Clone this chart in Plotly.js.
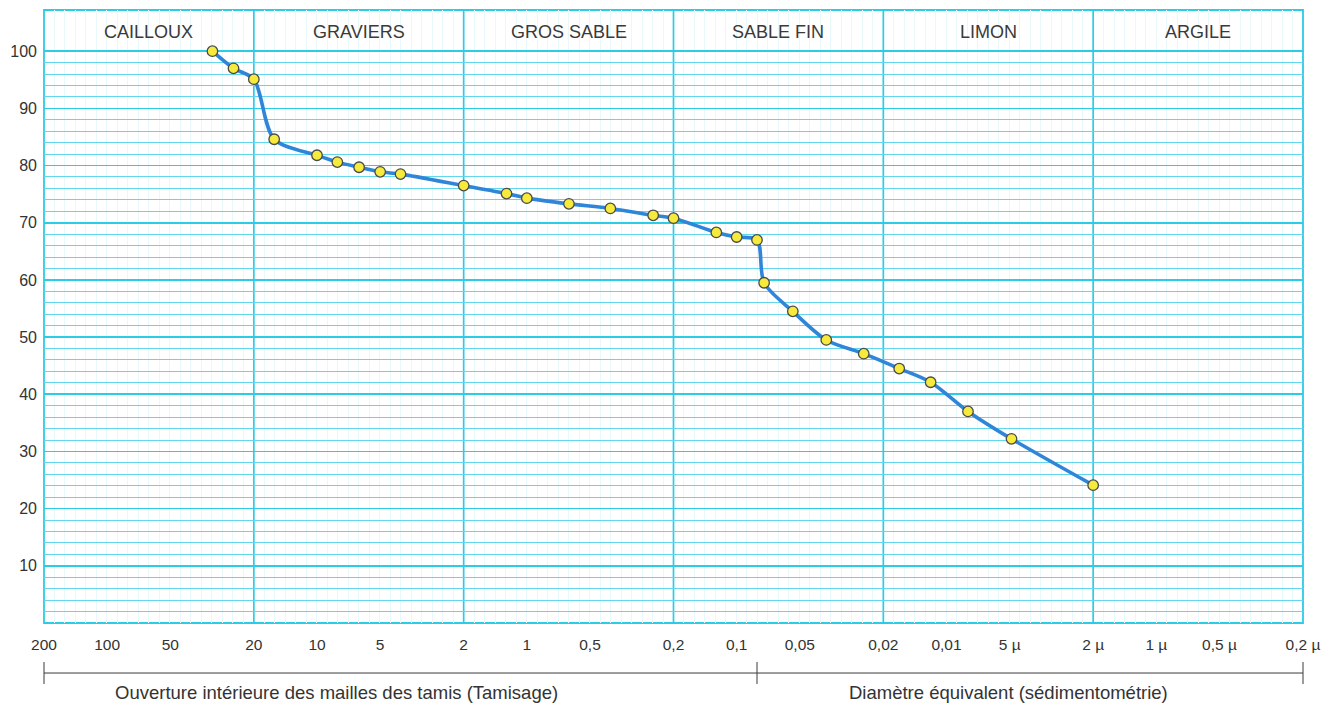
<!DOCTYPE html>
<html>
<head>
<meta charset="utf-8">
<script src="https://cdn.plot.ly/plotly-3.0.1.min.js"></script>
<style>html,body{margin:0;padding:0;background:#fff;}#chart{width:1333px;height:705px;}</style>
</head>
<body>
<div id="chart"></div>
<script>
// Granulometric curve data (diameter in mm, % passing)
const diameters = [31.5, 25, 20, 16, 10, 8, 6.3, 5, 4, 2, 1.25, 1, 0.63, 0.4, 0.25, 0.2, 0.125, 0.1, 0.08,
                   0.074, 0.054, 0.0374, 0.0248, 0.0168, 0.0119, 0.0079, 0.0049, 0.002];
const passing = [100, 97.0, 95.1, 84.6, 81.8, 80.6, 79.7, 78.9, 78.5, 76.5, 75.1, 74.3, 73.3, 72.5, 71.3, 70.8, 68.3, 67.5, 67.0,
                 59.5, 54.5, 49.5, 47.1, 44.5, 42.1, 37.0, 32.2, 24.1];

const tickValues = [200, 100, 50, 20, 10, 5, 2, 1, 0.5, 0.2, 0.1, 0.05, 0.02, 0.01, 0.005, 0.002, 0.001, 0.0005, 0.0002];
const tickLabels = ['200', '100', '50', '20', '10', '5', '2', '1', '0,5', '0,2', '0,1', '0,05', '0,02', '0,01', '5 µ', '2 µ', '1 µ', '0,5 µ', '0,2 µ'];

const classNames = ['CAILLOUX', 'GRAVIERS', 'GROS SABLE', 'SABLE FIN', 'LIMON', 'ARGILE'];
const classBounds = [200, 20, 2, 0.2, 0.02, 0.002, 0.0002];

const yTickValues = [10, 20, 30, 40, 50, 60, 70, 80, 90, 100];
const sieveLimit = 0.08;
const bottomLabels = ['Ouverture intérieure des mailles des tamis (Tamisage)', 'Diamètre équivalent (sédimentométrie)'];

const CYAN = '#2ccbe6';
const FONT = 'Liberation Sans, Arial, Helvetica, sans-serif';

const xMax = Math.log10(classBounds[0]);
const xMin = Math.log10(classBounds[classBounds.length - 1]);
const span = xMax - xMin;
const toPaperX = v => (xMax - Math.log10(v)) / span;

// faint paper texture (20 lines per decade)
const faint = [];
for (let k = 1; k < 120; k++) { if (k % 20 !== 0) faint.push(Math.pow(10, xMax - k * 0.05)); }
const yMinor = [];
for (let v = 2; v < 100; v += 2) { if (v % 10 !== 0) yMinor.push(v); }

const shapes = [];
// decade separators
for (let i = 1; i < classBounds.length - 1; i++) {
  const px = toPaperX(classBounds[i]);
  shapes.push({type: 'line', xref: 'paper', yref: 'paper', x0: px, x1: px, y0: 0, y1: 1,
               line: {color: CYAN, width: 1.7}, layer: 'below'});
}
// frame
shapes.push({type: 'rect', xref: 'paper', yref: 'paper', x0: 0, x1: 1, y0: 0, y1: 1,
             line: {color: CYAN, width: 1.8}, layer: 'below'});
// bottom bracket
const by = -0.0816;
shapes.push({type: 'line', xref: 'paper', yref: 'paper', x0: 0, x1: 1, y0: by, y1: by, line: {color: '#3a3a3a', width: 1}});
[0, toPaperX(sieveLimit), 1].forEach(px => {
  shapes.push({type: 'line', xref: 'paper', yref: 'paper', x0: px, x1: px, y0: by + 0.018, y1: by - 0.018,
               line: {color: '#3a3a3a', width: 1}});
});

const annotations = [];
for (let i = 0; i < classNames.length; i++) {
  const xm = (Math.log10(classBounds[i]) + Math.log10(classBounds[i + 1])) / 2;
  annotations.push({x: xm, y: 103.3, xref: 'x', yref: 'y', text: classNames[i], showarrow: false,
                    font: {family: FONT, size: 18, color: '#3a3a3a'}, xanchor: 'center', yanchor: 'middle'});
}
annotations.push({x: 0.2327, y: -0.1126, xref: 'paper', yref: 'paper', text: bottomLabels[0], showarrow: false,
                  font: {family: FONT, size: 18.5, color: '#333'}, xanchor: 'center', yanchor: 'middle'});
annotations.push({x: 0.7657, y: -0.1126, xref: 'paper', yref: 'paper', text: bottomLabels[1], showarrow: false,
                  font: {family: FONT, size: 18.5, color: '#333'}, xanchor: 'center', yanchor: 'middle'});

const trace = {
  x: diameters, y: passing, type: 'scatter', mode: 'lines+markers',
  line: {shape: 'spline', smoothing: 0.85, color: '#2f86d8', width: 3.6},
  marker: {size: 10.5, color: '#f6ea3c', line: {color: '#4a4a4a', width: 1.3}},
  cliponaxis: false, hoverinfo: 'x+y'
};

const layout = {
  width: 1333, height: 705,
  margin: {l: 44, r: 30, t: 10, b: 82},
  paper_bgcolor: '#ffffff', plot_bgcolor: '#ffffff',
  showlegend: false,
  font: {family: FONT, color: '#333'},
  xaxis: {
    type: 'log', range: [xMax, xMin], tickmode: 'array', tickvals: tickValues, ticktext: tickLabels,
    showgrid: false, zeroline: false, showline: false, ticks: '', ticklabelstandoff: 10,
    tickfont: {family: FONT, size: 15.5, color: '#333'},
    minor: {tickmode: 'array', tickvals: faint, showgrid: true, gridcolor: '#e9f8fb', gridwidth: 1, ticks: ''}
  },
  yaxis: {
    range: [0, 107.2], tickmode: 'array', tickvals: yTickValues,
    showgrid: true, gridcolor: CYAN, gridwidth: 1.6, zeroline: false, showline: false, ticks: '',
    ticklabelstandoff: 6, tickfont: {family: FONT, size: 16, color: '#333'},
    minor: {tickmode: 'array', tickvals: yMinor, showgrid: true, gridcolor: '#62d6ec', gridwidth: 1, ticks: ''}
  },
  shapes: shapes,
  annotations: annotations
};

Plotly.newPlot('chart', [trace], layout, {displayModeBar: false, staticPlot: true});
</script>
</body>
</html>
